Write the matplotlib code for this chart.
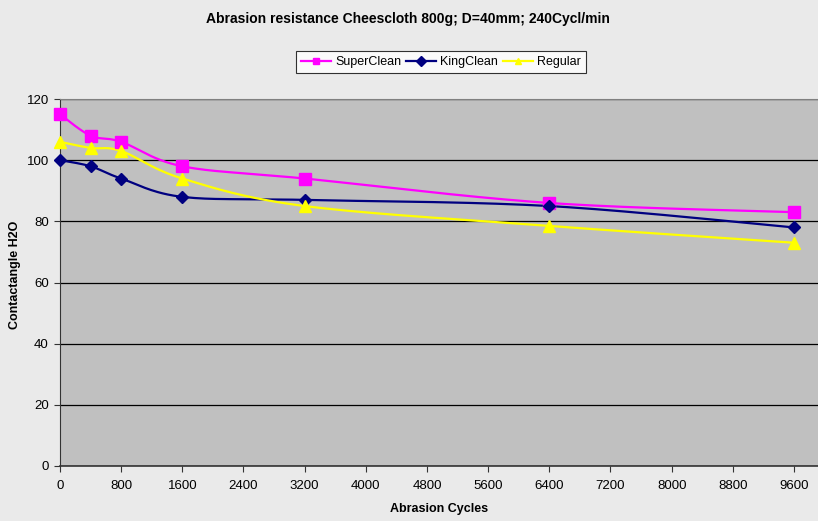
import numpy as np
import matplotlib
matplotlib.use("Agg")
import matplotlib.pyplot as plt
from matplotlib.lines import Line2D

cycles = [0, 400, 800, 1600, 3200, 6400, 9600]
superclean = [115, 108, 106, 98, 94, 86, 83]
kingclean = [100, 98, 94, 88, 87, 85, 78]
regular = [106, 104, 103, 94, 85, 78.5, 73]
series_names = ["SuperClean", "KingClean", "Regular"]
colors = ["#FF00FF", "#000080", "#FFFF00"]
markers = ["s", "D", "^"]
msizes = [8, 6.5, 9]
xticks = list(range(0, 9601, 800))
yticks = list(range(0, 121, 20))

plt.rcParams['font.family'] = ['Liberation Sans', 'DejaVu Sans']


def smooth(xs, ys, n=30):
    # Excel-style smoothing: cubic Bezier between points, Catmull-Rom control points
    xs = np.asarray(xs, float)
    ys = np.asarray(ys, float)
    sx = 734.0 / 9600.0
    sy = 3.058
    px = xs * sx
    py = ys * sy
    outx, outy = [], []
    m = len(px)
    for i in range(m - 1):
        p0 = np.array([px[max(i - 1, 0)], py[max(i - 1, 0)]])
        p1 = np.array([px[i], py[i]])
        p2 = np.array([px[i + 1], py[i + 1]])
        p3 = np.array([px[min(i + 2, m - 1)], py[min(i + 2, m - 1)]])
        c1 = p1 + (p2 - p0) / 6.0
        c2 = p2 - (p3 - p1) / 6.0
        t = np.linspace(0, 1, n)[:, None]
        b = ((1 - t) ** 3) * p1 + 3 * ((1 - t) ** 2) * t * c1 + 3 * (1 - t) * t ** 2 * c2 + t ** 3 * p2
        outx.extend(b[:, 0] / sx)
        outy.extend(b[:, 1] / sy)
    return np.array(outx), np.array(outy)


fig = plt.figure(figsize=(8.18, 5.21), dpi=100)
fig.patch.set_facecolor("#EAEAEA")
ax = fig.add_axes([60 / 818, 1 - 466 / 521, 1 - 60 / 818, (466 - 99) / 521])
ax.set_facecolor("#C0C0C0")

for ys, c, mk, ms in zip([superclean, kingclean, regular], colors, markers, msizes):
    sxv, syv = smooth(cycles, ys)
    ax.plot(sxv, syv, color=c, lw=1.6, solid_capstyle="round", zorder=3)
    ax.plot(cycles, ys, linestyle="none", marker=mk, markersize=ms, color=c,
            markeredgecolor=c, zorder=4, clip_on=False)

ax.set_xlim(0, 9914)
ax.set_ylim(0, 120)
ax.set_xticks(xticks)
ax.set_xticklabels([str(v) for v in xticks])
ax.set_yticks(yticks)
ax.set_yticklabels([str(v) for v in yticks])
ax.grid(axis="y", color="black", lw=0.9, zorder=1)
ax.set_axisbelow(True)
ax.tick_params(axis="both", direction="out", length=4, width=0.8, colors="#333333",
               labelsize=9.5, labelcolor="black", pad=4)
ax.tick_params(axis="x", pad=6)
ax.spines["right"].set_visible(False)
ax.spines["top"].set_color("#808080")
ax.spines["left"].set_color("#333333")
ax.spines["bottom"].set_color("#333333")
ax.spines["bottom"].set_linewidth(1.2)

ax.set_xlabel("Abrasion Cycles", fontsize=9, fontweight="bold", labelpad=8)
ax.set_ylabel("Contactangle H2O", fontsize=9, fontweight="bold")
ax.yaxis.set_label_coords(-39 / 758, 0.52)

fig.text(408 / 818, 1 - 19 / 521, "Abrasion resistance Cheescloth 800g; D=40mm; 240Cycl/min",
         ha="center", va="center", fontsize=10, fontweight="bold")

handles = [Line2D([0], [0], color=c, lw=1.6, marker=mk, markersize=5, markeredgecolor=c)
           for c, mk in zip(colors, markers)]
leg = fig.legend(handles, series_names, loc="center", bbox_to_anchor=(441 / 818, 1 - 62 / 521),
                 ncol=3, frameon=True, fancybox=False, fontsize=9, handlelength=2.4,
                 handletextpad=0.3, columnspacing=0.4, borderpad=0.4, borderaxespad=0)
leg.get_frame().set_edgecolor("black")
leg.get_frame().set_linewidth(0.8)
leg.get_frame().set_facecolor("white")

fig.savefig("out.png", dpi=100, facecolor=fig.get_facecolor())
